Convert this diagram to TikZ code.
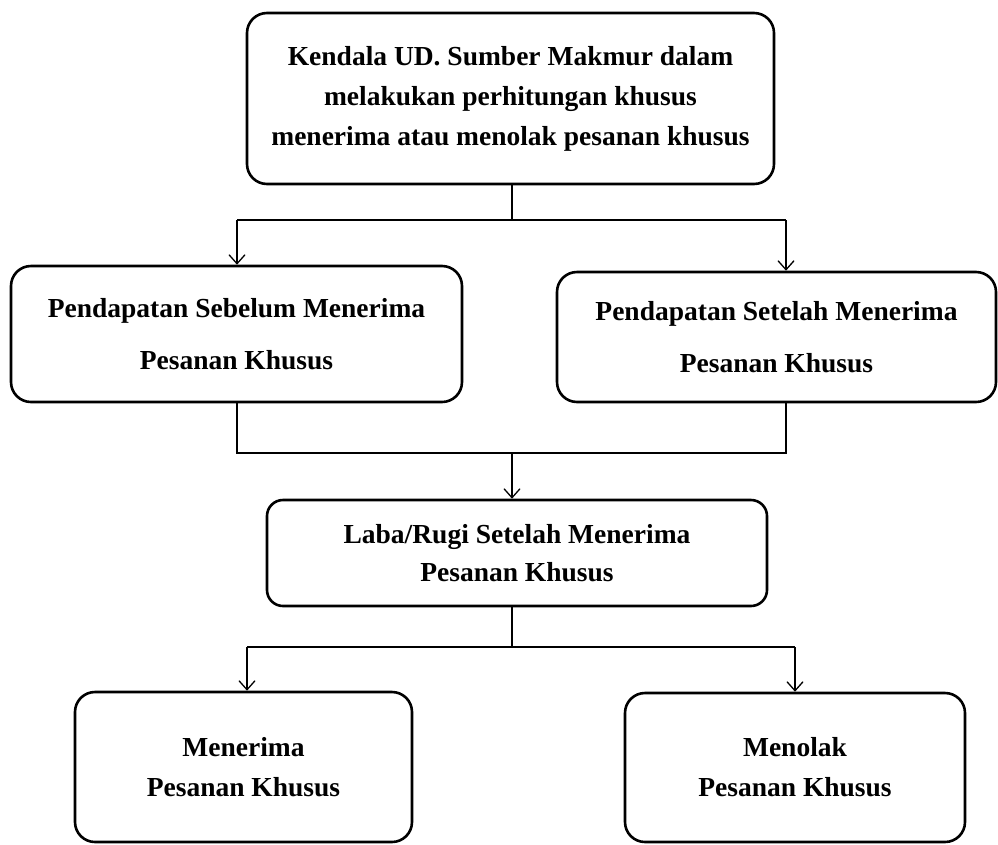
\documentclass[tikz,border=0pt]{standalone}
\usepackage{fontspec}
\setmainfont{Liberation Serif}
\usetikzlibrary{arrows.meta}
\tikzset{
  kotak/.style={draw, line width=2.6pt, rounded corners=20pt, align=center,
    font=\bfseries\fontsize{27.5}{40}\selectfont, inner sep=0pt},
  garis/.style={line width=1.6pt},
  panah/.style={garis, -{Straight Barb[length=9pt, width=16pt, line width=1.3pt]}}
}
\begin{document}
\begin{tikzpicture}[x=1pt, y=-1pt]
\useasboundingbox (0,0) rectangle (998,844);
% kotak utama
\node[kotak, minimum width=527pt, minimum height=171pt] (kendala) at (510.5,98.5)
  {Kendala UD. Sumber Makmur dalam\\melakukan perhitungan khusus\\menerima atau menolak pesanan khusus};
\node[kotak, minimum width=451pt, minimum height=136pt, font=\bfseries\fontsize{27.5}{52}\selectfont] (sebelum) at (236.5,334)
  {Pendapatan Sebelum Menerima\\Pesanan Khusus};
\node[kotak, minimum width=439pt, minimum height=130pt, font=\bfseries\fontsize{27.5}{52}\selectfont] (setelah) at (776.5,337)
  {Pendapatan Setelah Menerima\\Pesanan Khusus};
\node[kotak, minimum width=500pt, minimum height=106pt, rounded corners=16pt, font=\bfseries\fontsize{27.5}{38}\selectfont] (labarugi) at (517,553)
  {Laba/Rugi Setelah Menerima\\Pesanan Khusus};
\node[kotak, minimum width=337pt, minimum height=150pt] (terima) at (243.5,767)
  {Menerima\\Pesanan Khusus};
\node[kotak, minimum width=340pt, minimum height=149pt] (tolak) at (795,767.5)
  {Menolak\\Pesanan Khusus};
% titik cabang
\coordinate (cabangA) at (512,220);
\coordinate (kiriA) at (237,220);
\coordinate (kananA) at (786,220);
\coordinate (kiriB) at (237,453);
\coordinate (kananB) at (786,453);
\coordinate (cabangB) at (512,453);
\coordinate (cabangC) at (512,647);
\coordinate (kiriC) at (247,647);
\coordinate (kananC) at (795,647);
% penghubung
\draw[garis] (kendala.south -| cabangA) -- (cabangA);
\draw[garis] (kiriA) -- (kananA);
\draw[panah] (kiriA) -- (kiriA |- sebelum.north);
\draw[panah] (kananA) -- (kananA |- setelah.north);
\draw[garis] (kiriB |- sebelum.south) -- (kiriB) -- (kananB) -- (kananB |- setelah.south);
\draw[panah] (cabangB) -- (cabangB |- labarugi.north);
\draw[garis] (labarugi.south -| cabangC) -- (cabangC);
\draw[garis] (kiriC) -- (kananC);
\draw[panah] (kiriC) -- (kiriC |- terima.north);
\draw[panah] (kananC) -- (kananC |- tolak.north);
\end{tikzpicture}
\end{document}
